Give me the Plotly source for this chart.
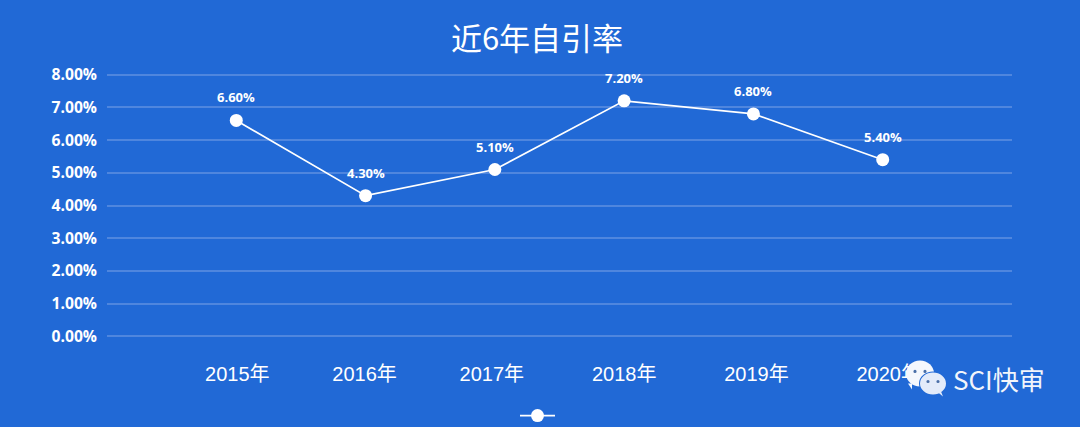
import plotly.graph_objects as go

title = "近6年自引率"
categories = ["2015年", "2016年", "2017年", "2018年", "2019年", "2020年"]
rates = [6.6, 4.3, 5.1, 7.2, 6.8, 5.4]
y_ticks = [0, 1, 2, 3, 4, 5, 6, 7, 8]
watermark = "SCI快审"

W, H = 1080, 427
BG = "#2169d6"
GRID = "#4f86de"
L, R, T, B = 107, 68, 73.37, 89.37
step = (W - L - R) / 7
# the reference's category labels sit slightly off their points (pixels)
label_shift_px = [1, -1, -3, 0, 3, 6]

px = lambda v: (v - L) / (W - L - R)
py = lambda v: 1 - (v - T) / (H - T - B)

positions = list(range(len(categories)))
fig = go.Figure()
fig.add_trace(go.Scatter(
    x=positions, y=rates, mode="lines+markers", name=" ",
    line=dict(color="white", width=1.7),
    marker=dict(color="white", size=13),
    cliponaxis=False, showlegend=True, hoverinfo="skip",
))

def bubble(cx, cy, rx, ry, color, tail, eye):
    out = [dict(type="circle", xref="paper", yref="paper", layer="above",
                x0=px(cx - rx), x1=px(cx + rx), y0=py(cy + ry), y1=py(cy - ry),
                fillcolor=color, line_width=0)]
    tx, ty, sx, sy = tail
    out.append(dict(type="path", xref="paper", yref="paper", layer="above",
                    path=f"M {px(tx)} {py(ty)} L {px(sx)} {py(sy)} L {px(sx + (4 if sx < cx else -4))} {py(sy)} Z",
                    fillcolor=color, line_width=0))
    for ex in eye:
        out.append(dict(type="circle", xref="paper", yref="paper", layer="above",
                        x0=px(ex - 1.6), x1=px(ex + 1.6), y0=py(cy - 2 + 1.6), y1=py(cy - 2 - 1.6),
                        fillcolor="#4a6fa8", line_width=0))
    return out

shapes = []
shapes += bubble(920, 373, 14, 13, "#f4f7fd", (912, 389, 908, 383), (915, 925))
shapes += [dict(type="circle", xref="paper", yref="paper", layer="above",
                x0=px(919), x1=px(947), y0=py(395), y1=py(371), fillcolor=BG, line_width=0)]
shapes += bubble(933, 383, 13, 11, "#e3ebfa", (943, 396, 941, 391), (928, 938))

value_labels = [dict(text=f"{v:.2f}%", x=p, y=v, xref="x", yref="y", yshift=23,
                     xanchor="center", yanchor="middle", showarrow=False,
                     font=dict(family="Open Sans, Noto Sans", size=13, color="white", weight="bold"))
                for p, v in zip(positions, rates)]

fig.update_layout(
    width=W, height=H, autosize=False,
    paper_bgcolor=BG, plot_bgcolor=BG,
    margin=dict(l=L, r=R, t=T, b=B, autoexpand=False),
    font=dict(family="Liberation Sans, Noto Sans CJK SC", color="white"),
    title=dict(text=title, x=537 / W, xanchor="center", y=1 - 39 / H, yanchor="middle",
               font=dict(family="Noto Sans CJK SC", size=31, color="white")),
    xaxis=dict(range=[-1, 6], tickmode="array", automargin=False,
               tickvals=[p + s / step for p, s in zip(positions, label_shift_px)],
               ticktext=categories, showgrid=False, zeroline=False, showline=False, ticks="",
               ticklabelstandoff=22,
               tickfont=dict(family="Liberation Sans, Noto Sans CJK SC", size=20, color="white")),
    yaxis=dict(range=[-0.05, 8.05], tickmode="array", tickvals=y_ticks, automargin=False,
               ticktext=[f"{v:.2f}%" for v in y_ticks],
               gridcolor=GRID, gridwidth=1.5, zeroline=False, showline=False, ticks="",
               ticklabelstandoff=9,
               tickfont=dict(family="Open Sans, Noto Sans", size=15.7, color="white", weight="bold")),
    legend=dict(orientation="h", x=px(540.5), xanchor="center", y=py(415), yanchor="middle",
                itemwidth=35, font=dict(size=1), bgcolor="rgba(0,0,0,0)"),
    shapes=shapes,
    annotations=value_labels + [dict(text=watermark, xref="paper", yref="paper", x=px(998.5), y=py(378),
                      xanchor="center", yanchor="middle", showarrow=False,
                      font=dict(family="Noto Sans CJK SC", size=26, color="#f2f5fb"))],
)
fig.write_html("out.html", config=dict(displayModeBar=False), post_script="document.body.style.margin='0';")
